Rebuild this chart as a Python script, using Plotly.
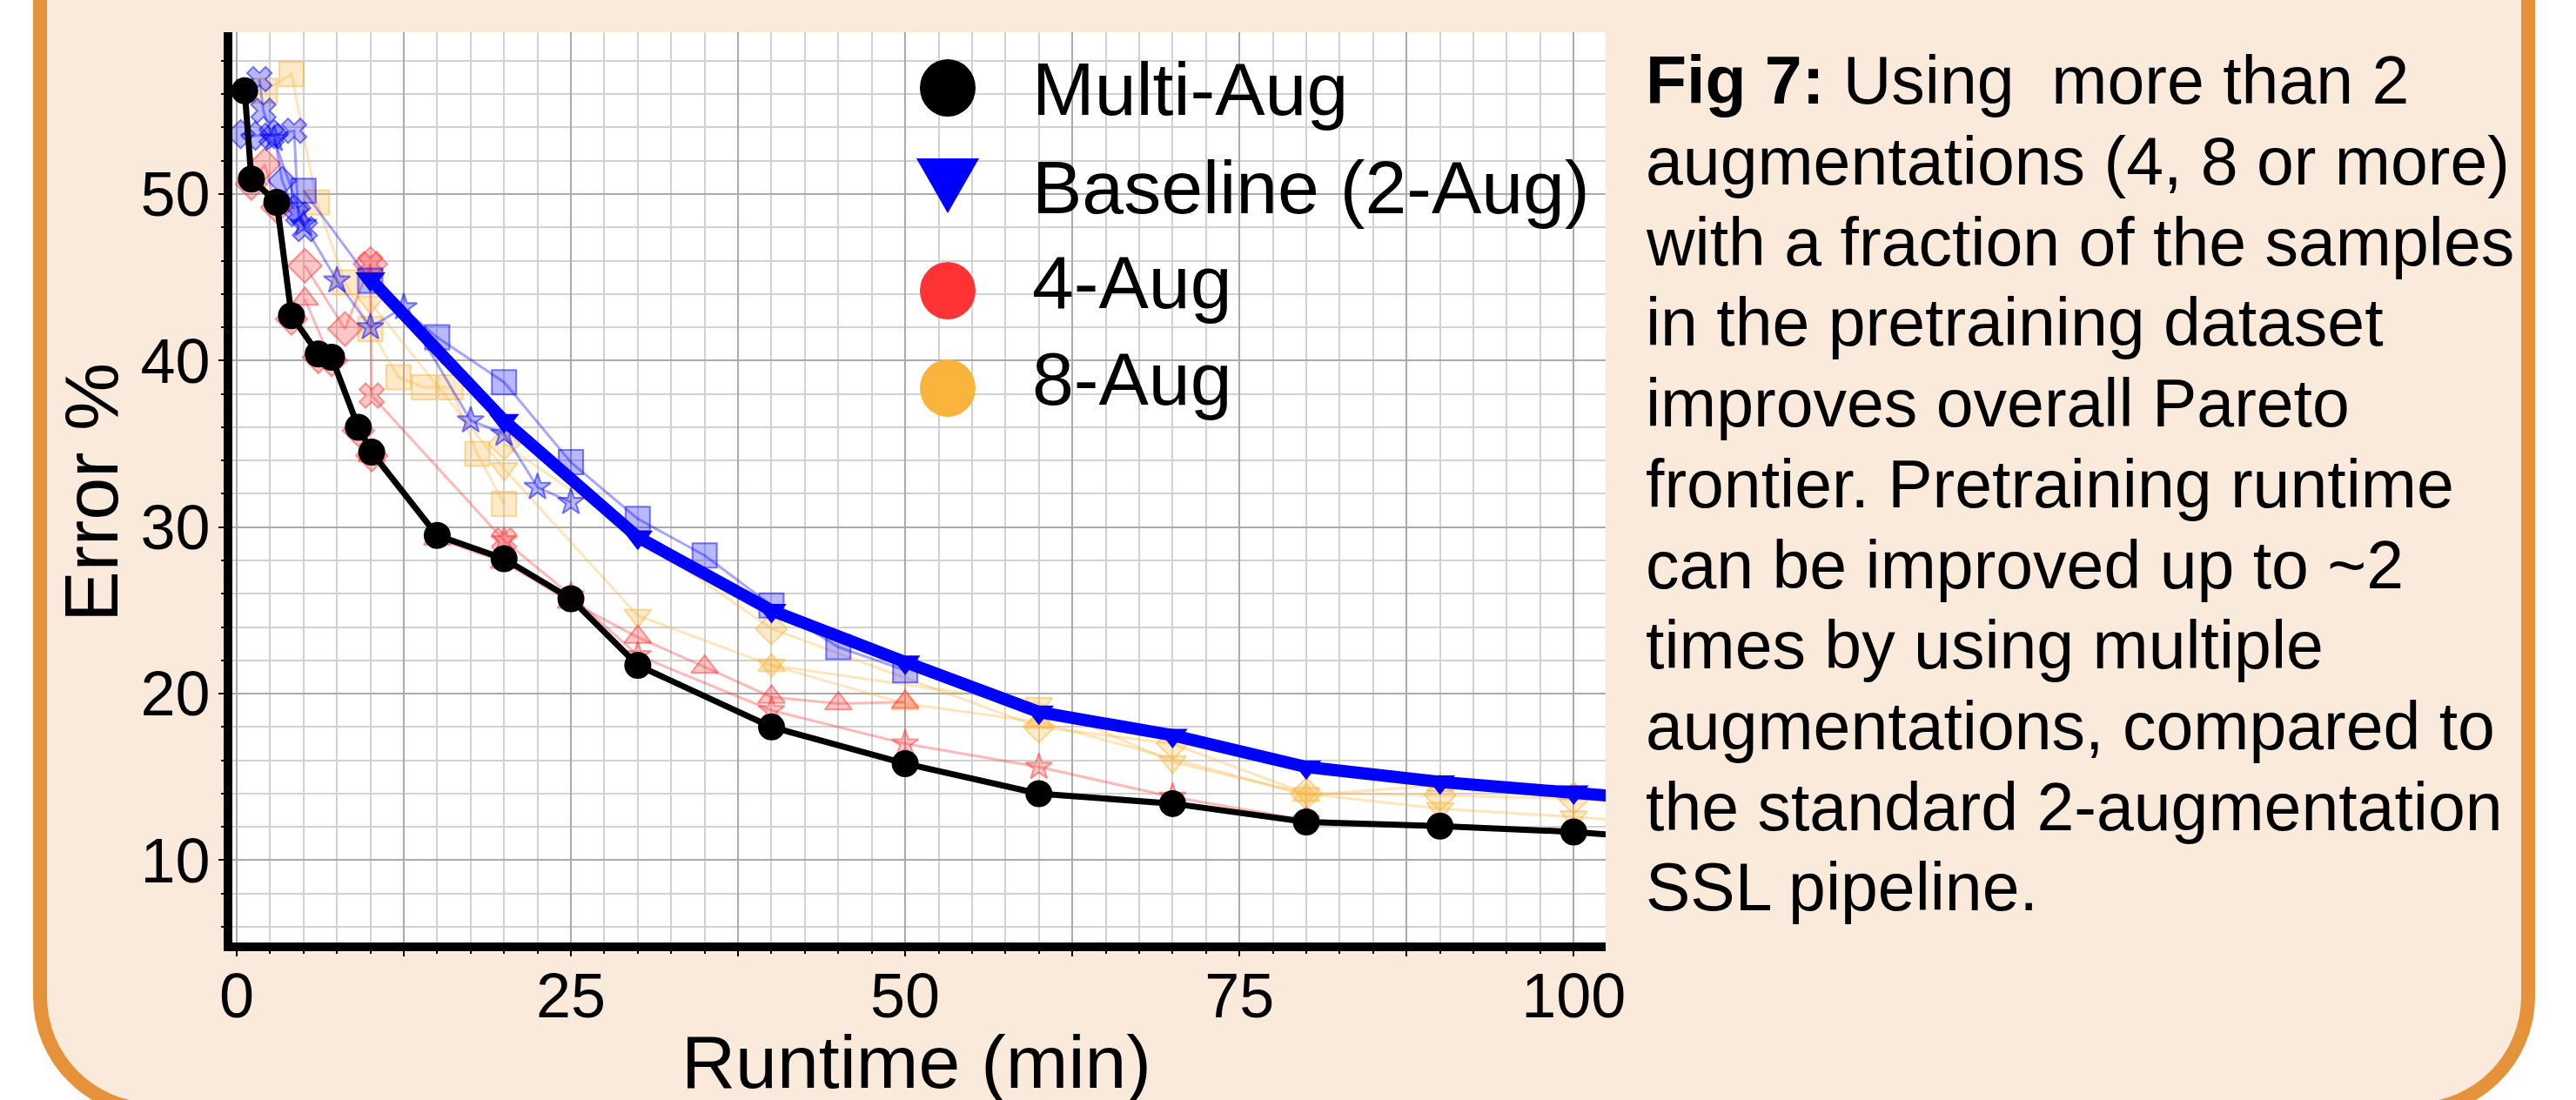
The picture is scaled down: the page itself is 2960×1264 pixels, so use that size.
import plotly.graph_objects as go

# ---------------- data ----------------
multi_x = [0.6, 1.1, 3.0, 4.1, 6.1, 7.1, 9.1, 10.1, 15, 20, 25, 30, 40, 50, 60, 70, 80, 90, 100, 110]
multi_y = [56.2, 50.9, 49.5, 42.7, 40.4, 40.2, 36.0, 34.5, 29.5, 28.1, 25.7, 21.7, 18.0, 15.8, 14.0, 13.4, 12.3, 12.05, 11.7, 11.1]

base_x = [10, 20, 30, 40, 50, 60, 70, 80, 90, 100, 110]
base_y = [44.9, 36.4, 29.4, 25.0, 21.9, 18.9, 17.5, 15.6, 14.7, 14.1, 13.4]

# faint 2-aug runs (blue)
b_sq_x = [5, 10, 15, 20, 25, 30, 35, 40, 45, 50]
b_sq_y = [50.2, 44.8, 41.4, 38.7, 33.9, 30.5, 28.3, 25.3, 22.8, 21.4]
b_star_x = [2.8, 5.0, 7.5, 10.0, 12.5, 17.5, 20, 22.5, 25]
b_star_y = [53.3, 48.2, 44.8, 42.0, 43.2, 36.4, 35.6, 32.4, 31.5]
b_x_x = [1.7, 2.0, 2.6, 4.3, 4.6, 5.1]
b_x_y = [56.9, 55.0, 53.5, 53.8, 48.8, 47.9]
b_dia_x = [0.3, 1.4, 2.8, 3.4, 4.3]
b_dia_y = [53.6, 53.5, 53.6, 50.8, 49.1]

# faint 4-aug runs (red)
r_dia_x = [1.1, 2.1, 3.0, 4.1, 6.1, 7.1, 9.1, 10.1]
r_dia_y = [50.6, 51.8, 49.2, 42.5, 40.2, 40.0, 35.8, 34.3]
r_dia2_x = [5.1, 8.1, 10.0]
r_dia2_y = [45.7, 41.9, 45.8]
r_tri_x = [5.1, 10.1, 15, 20, 25, 30, 35, 40, 45, 50]
r_tri_y = [43.7, 34.3, 29.3, 27.9, 25.5, 23.4, 21.6, 19.8, 19.4, 19.5]
r_x_x = [10.0, 10.1, 20]
r_x_y = [45.8, 37.9, 29.2]
r_star_x = [20, 25, 30, 40, 50, 60, 70, 80]
r_star_y = [29.2, 25.9, 22.3, 19.0, 17.0, 15.6, 13.8, 12.4]

# faint 8-aug runs (orange)
o_sq_x = [2.1, 4.1, 6.0, 8.1, 10.0, 12.1, 14.0, 16.0, 18.0, 20.0]
o_sq_y = [56.2, 57.2, 49.5, 44.7, 41.9, 39.0, 38.4, 38.4, 34.4, 31.4]
o_td_x = [10, 20, 30, 40, 60, 70, 80, 90, 100, 110]
o_td_y = [43.5, 33.5, 24.7, 21.7, 19.4, 15.9, 14.0, 13.1, 12.6, 12.0]
o_dia_x = [20, 40, 60, 70, 80, 90, 100, 110]
o_dia_y = [35.0, 23.9, 18.0, 17.0, 14.0, 13.9, 13.7, 13.3]
o_tu_x = [40, 50, 60, 80, 90, 100]
o_tu_y = [21.7, 19.4, 18.3, 13.9, 14.5, 14.0]

x_ticks = [0, 12.5, 25, 37.5, 50, 62.5, 75, 87.5, 100]
x_ticklabels = ["0", "", "25", "", "50", "", "75", "", "100"]

legend_labels = ["Multi-Aug", "Baseline (2-Aug)", "4-Aug", "8-Aug"]

caption_lines = [
    "<b>Fig 7:</b> Using\u00a0 more than 2",
    "augmentations (4, 8 or more)",
    "with a fraction of the samples",
    "in the pretraining dataset",
    "improves overall Pareto",
    "frontier. Pretraining runtime",
    "can be improved up to ~2",
    "times by using multiple",
    "augmentations, compared to",
    "the standard 2-augmentation",
    "SSL pipeline.",
]

# ---------------- layout geometry (pixels) ----------------
FW, FH = 2960, 1264
L, R, T, B = 267, 1845, 37, 1083
W, H = R - L, B - T
FONT = "Liberation Sans, Arial, Helvetica, sans-serif"

BLUE = (0, 0, 255)
RED = (255, 51, 51)
ORANGE = (251, 180, 59)


def px(x):
    return (x - L) / W


def py(y):
    return (B - y) / H


def rgba(c, a):
    return f"rgba({c[0]},{c[1]},{c[2]},{a})"


fig = go.Figure()


def faint(x, y, col, symbol, size):
    fig.add_trace(go.Scatter(
        x=x, y=y, mode="lines+markers", showlegend=False,
        line=dict(color=rgba(col, 0.35), width=3),
        marker=dict(symbol=symbol, size=size, color=rgba(col, 0.28),
                    line=dict(color=rgba(col, 0.5), width=2)),
        hoverinfo="skip"))


faint(o_sq_x, o_sq_y, ORANGE, "square", 28)
faint(o_td_x, o_td_y, ORANGE, "triangle-down", 27)
faint(o_dia_x, o_dia_y, ORANGE, "diamond", 28)
faint(o_tu_x, o_tu_y, ORANGE, "triangle-up", 27)

faint(r_dia_x, r_dia_y, RED, "diamond", 28)
faint(r_dia2_x, r_dia2_y, RED, "diamond", 30)
faint(r_tri_x, r_tri_y, RED, "triangle-up", 27)
faint(r_x_x, r_x_y, RED, "x", 25)
faint(r_star_x, r_star_y, RED, "star", 23)

faint(b_sq_x, b_sq_y, BLUE, "square", 28)
faint(b_star_x, b_star_y, BLUE, "star", 23)
faint(b_x_x, b_x_y, BLUE, "x", 25)
faint(b_dia_x, b_dia_y, BLUE, "diamond", 25)

fig.add_trace(go.Scatter(
    x=multi_x, y=multi_y, mode="lines+markers", name=legend_labels[0], showlegend=False,
    line=dict(color="black", width=7),
    marker=dict(symbol="circle", size=31, color="black")))

fig.add_trace(go.Scatter(
    x=base_x, y=base_y, mode="lines+markers", name=legend_labels[1], showlegend=False,
    line=dict(color="#0000FF", width=14),
    marker=dict(symbol="triangle-down", size=30, color="#0000FF")))

# ---------------- decorations ----------------
shapes = []
# rounded panel (top is cut off by the page)
k = 0.5523
xl, xr, yt, yb, rad = 46, 2905, -300, 1275, 130
pts = [
    ("M", [(xl, yt)]),
    ("L", [(xl, yb - rad)]),
    ("C", [(xl, yb - rad + k * rad), (xl + rad - k * rad, yb), (xl + rad, yb)]),
    ("L", [(xr - rad, yb)]),
    ("C", [(xr - rad + k * rad, yb), (xr, yb - rad + k * rad), (xr, yb - rad)]),
    ("L", [(xr, yt)]),
]
path = ""
for cmd, plist in pts:
    path += cmd + " ".join(f"{px(a):.5f},{py(b):.5f}" for a, b in plist) + " "
path += "Z"
shapes.append(dict(type="path", xref="paper", yref="paper", path=path,
                   fillcolor="#FAEADC", line=dict(color="#E6923A", width=16), layer="below"))
# white plotting area
shapes.append(dict(type="rect", xref="paper", yref="paper", x0=0, x1=1, y0=0, y1=1,
                   fillcolor="white", line=dict(width=0), layer="below"))

# legend symbols
lx, lr = 1089, 32
for cy, col in [(101, "black"), (334, rgba(RED, 1)), (446, rgba(ORANGE, 1))]:
    shapes.append(dict(type="circle", xref="paper", yref="paper",
                       x0=px(lx - lr), x1=px(lx + lr), y0=py(cy + 33), y1=py(cy - 33),
                       fillcolor=col, line=dict(width=0), layer="above"))
tri = f"M{px(1053):.5f},{py(182):.5f} L{px(1125):.5f},{py(182):.5f} L{px(1089):.5f},{py(245):.5f} Z"
shapes.append(dict(type="path", xref="paper", yref="paper", path=tri,
                   fillcolor="#0000FF", line=dict(width=0), layer="above"))

annotations = []
legend_base = [131.7, 245, 353.3, 465]
for lab, bl in zip(legend_labels, legend_base):
    annotations.append(dict(text=lab, xref="paper", yref="paper", x=px(1184), y=py(bl - 0.3465 * 86),
                            xanchor="left", yanchor="middle", showarrow=False,
                            font=dict(family=FONT, size=86, color="black")))

for i, line in enumerate(caption_lines):
    bl = 119 + 92.7 * i
    annotations.append(dict(text=line, xref="paper", yref="paper", x=px(1889), y=py(bl - 0.3465 * 77),
                            xanchor="left", yanchor="middle", showarrow=False,
                            font=dict(family=FONT, size=77, color="black")))

# axis titles
annotations.append(dict(text="Runtime (min)", xref="paper", yref="paper", x=px(1053), y=py(1250 - 0.3465 * 86),
                        xanchor="center", yanchor="middle", showarrow=False,
                        font=dict(family=FONT, size=86, color="black")))
annotations.append(dict(text="Error %", xref="paper", yref="paper", x=px(104), y=py(566),
                        xanchor="center", yanchor="middle", showarrow=False, textangle=-90,
                        font=dict(family=FONT, size=88, color="black")))

fig.update_layout(
    width=FW, height=FH,
    margin=dict(l=L, r=FW - R, t=T, b=FH - B, pad=0),
    paper_bgcolor="white", plot_bgcolor="rgba(0,0,0,0)",
    showlegend=False,
    shapes=shapes, annotations=annotations,
    font=dict(family=FONT, color="black"),
)

fig.update_xaxes(
    range=[-0.323, 102.39], tickmode="array", tickvals=x_ticks, ticktext=x_ticklabels,
    showline=True, linecolor="black", linewidth=10,
    ticks="outside", ticklen=6, tickwidth=2, tickcolor="black",
    ticklabelstandoff=-16,
    tickfont=dict(family=FONT, size=72, color="black"),
    showgrid=True, gridcolor="#ABABAB", gridwidth=2, zeroline=False,
    minor=dict(tickmode="linear", tick0=0, dtick=2.5, showgrid=True, gridcolor="#D2D2D2", gridwidth=2,
               ticks="outside", ticklen=3, tickwidth=2, tickcolor="black"),
)
fig.update_yaxes(
    range=[5.06, 59.72], tickmode="linear", tick0=0, dtick=10,
    showline=True, linecolor="black", linewidth=10,
    ticks="outside", ticklen=6, tickwidth=2, tickcolor="black",
    ticklabelstandoff=-5,
    tickfont=dict(family=FONT, size=72, color="black"),
    showgrid=True, gridcolor="#ABABAB", gridwidth=2, zeroline=False,
    minor=dict(tickmode="linear", tick0=0, dtick=2, showgrid=True, gridcolor="#D2D2D2", gridwidth=2,
               ticks="outside", ticklen=3, tickwidth=2, tickcolor="black"),
)

fig.write_html("out.html")
